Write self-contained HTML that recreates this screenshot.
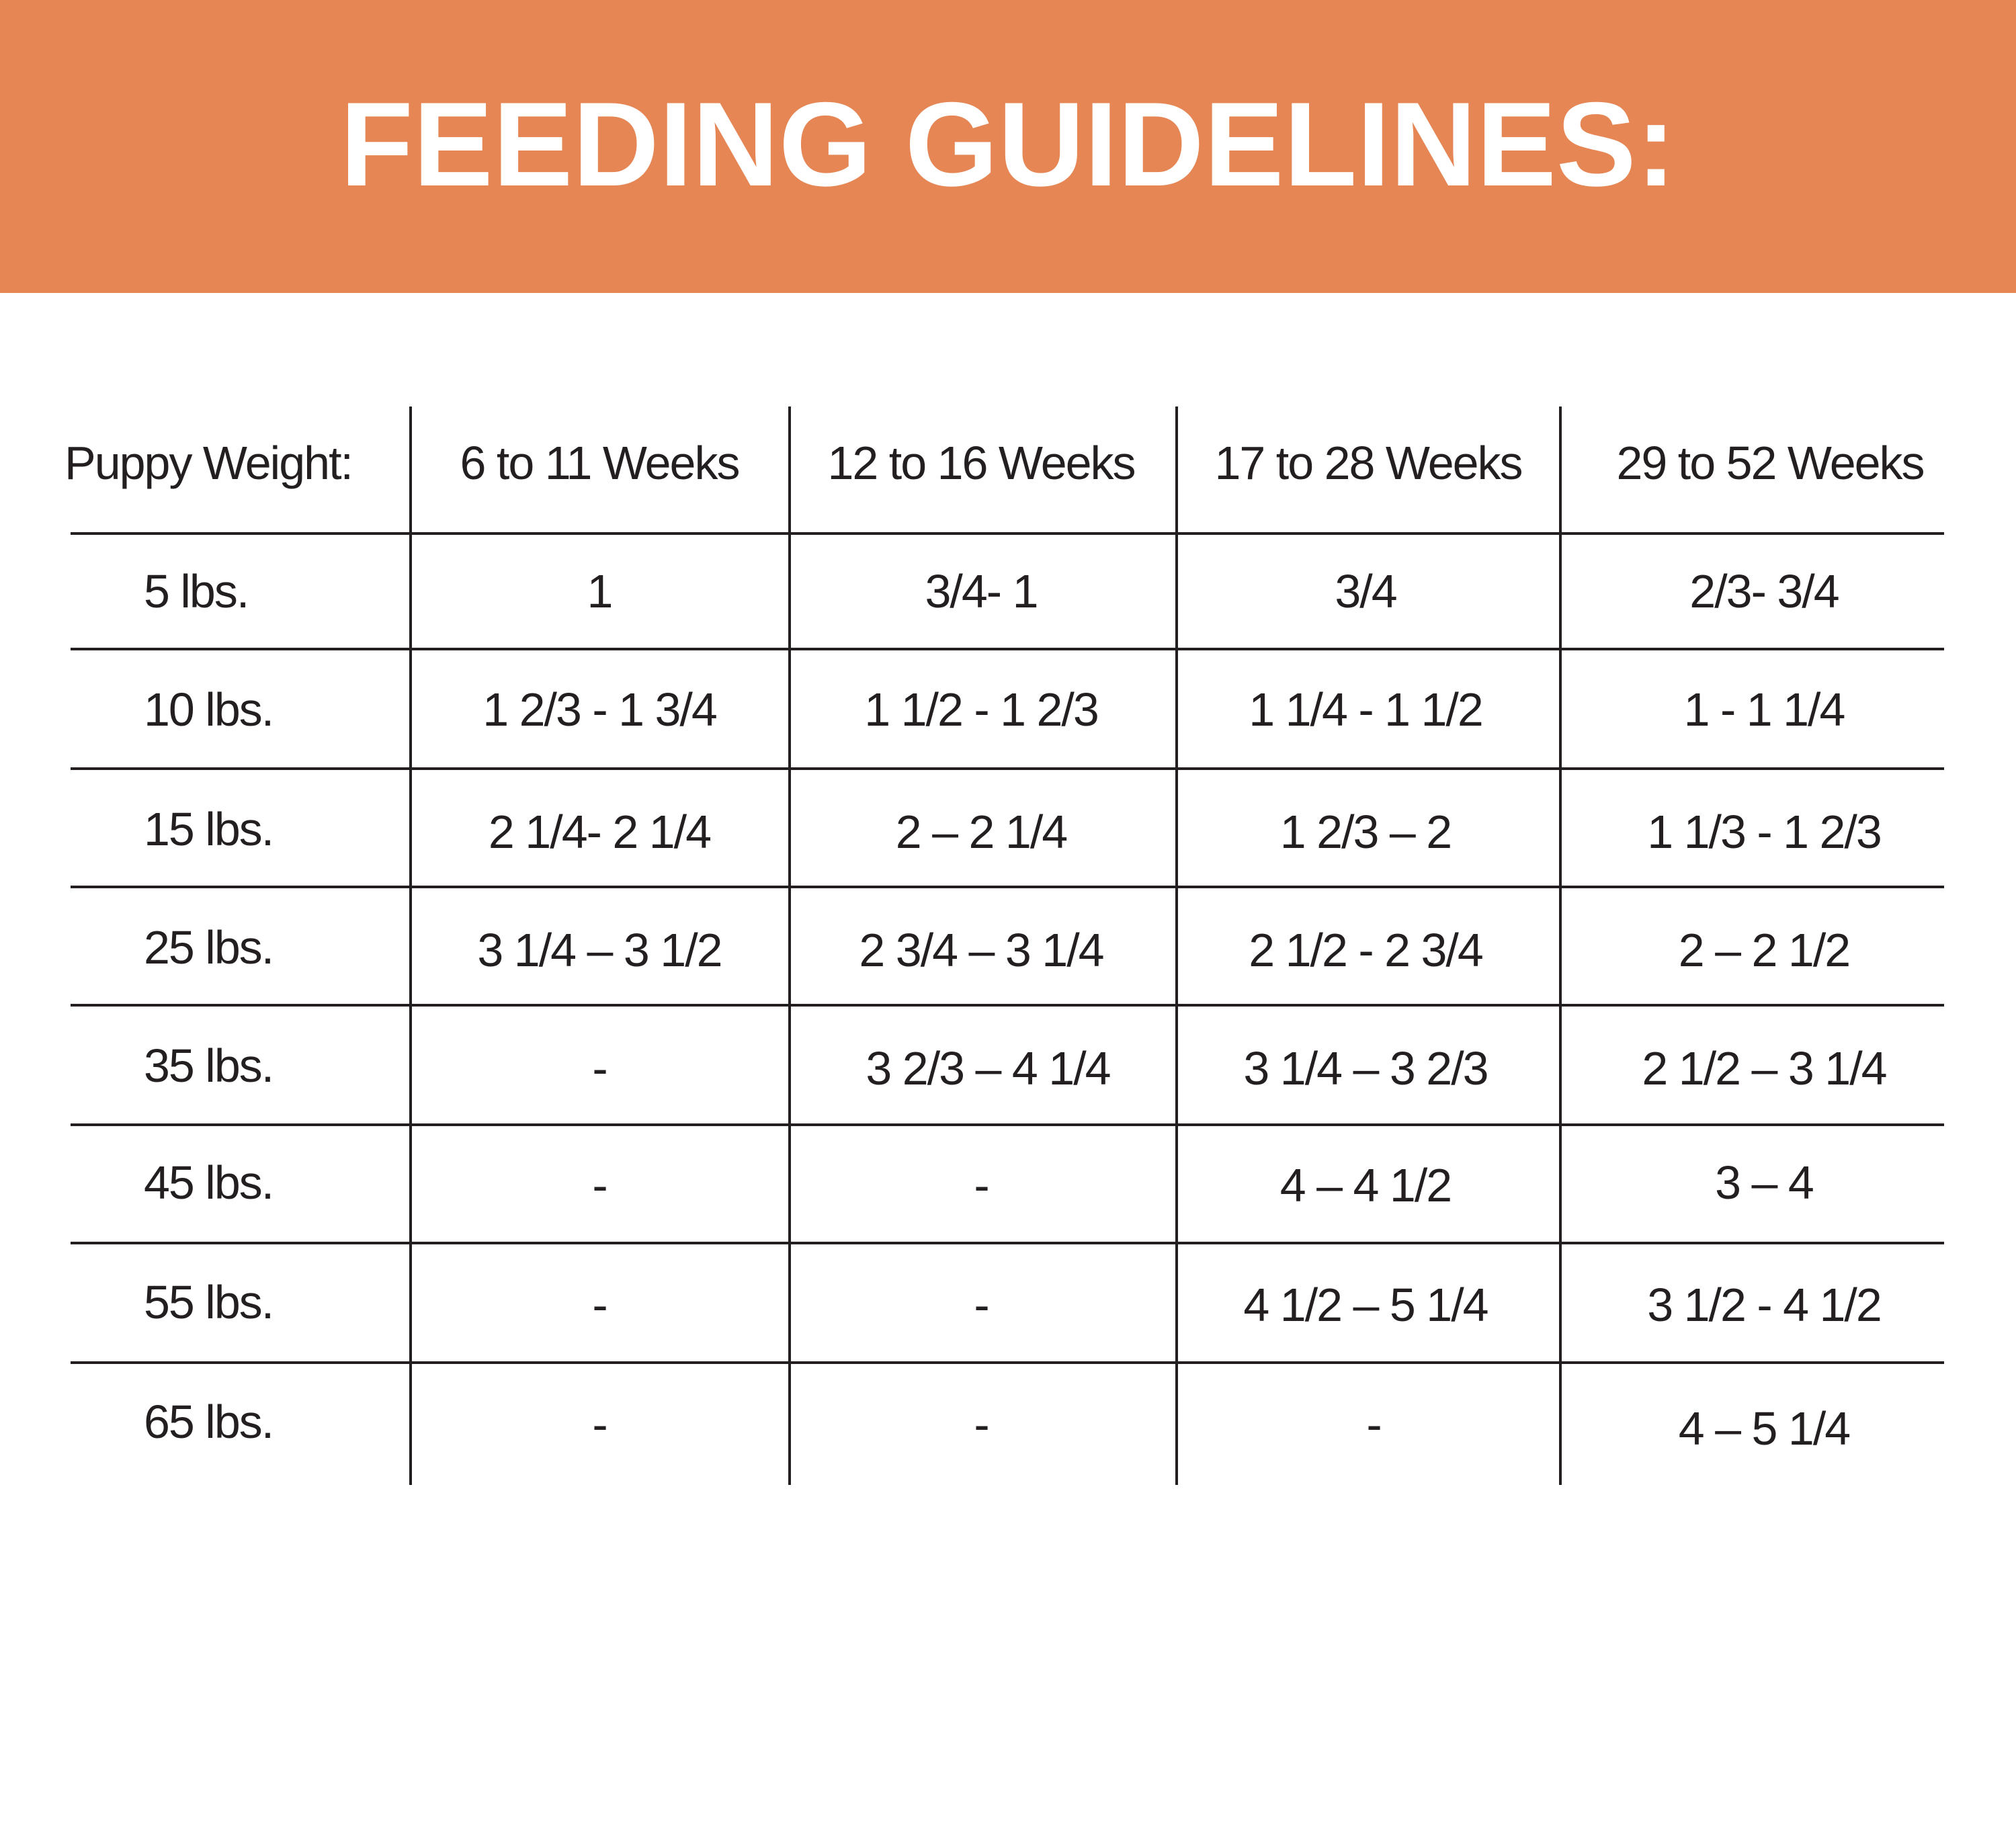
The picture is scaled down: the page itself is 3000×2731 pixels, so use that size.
<!DOCTYPE html>
<html><head><meta charset="utf-8"><style>
html,body{margin:0;padding:0;background:#fff;}
body{width:3000px;height:2731px;position:relative;overflow:hidden;font-family:"Liberation Sans",sans-serif;color:#231f20;}
.hdr{position:absolute;left:0;top:0;width:3000px;height:436px;background:#E58654;}
.title{position:absolute;left:0;width:3000px;top:105px;text-align:center;color:#fff;font-weight:bold;font-size:178px;line-height:220px;letter-spacing:0px;}
.h{position:absolute;height:4px;background:#231f20;left:105px;width:2788px;}
.v{position:absolute;width:4px;background:#231f20;top:605px;height:1605px;}
.t{position:absolute;font-size:70px;line-height:90px;letter-spacing:-2px;white-space:nowrap;transform:translate(-50%,-50%);}
.l{position:absolute;font-size:70px;line-height:90px;letter-spacing:-2px;white-space:nowrap;transform:translateY(-50%);}
</style></head><body>
<div class="hdr"></div>
<div class="title">FEEDING GUIDELINES:</div>
<div class="v" style="left:609px"></div>
<div class="v" style="left:1173px"></div>
<div class="v" style="left:1749px"></div>
<div class="v" style="left:2320px"></div>
<div class="h" style="top:792px"></div>
<div class="h" style="top:964px"></div>
<div class="h" style="top:1142px"></div>
<div class="h" style="top:1318px"></div>
<div class="h" style="top:1494px"></div>
<div class="h" style="top:1672px"></div>
<div class="h" style="top:1848px"></div>
<div class="h" style="top:2026px"></div>

<div class="l" style="left:96px;top:689px">Puppy Weight:</div>
<div class="t" style="left:892px;top:689px">6 to 11 Weeks</div>
<div class="t" style="left:1460px;top:689px">12 to 16 Weeks</div>
<div class="t" style="left:2036px;top:689px">17 to 28 Weeks</div>
<div class="t" style="left:2634px;top:689px">29 to 52 Weeks</div>

<div class="l" style="left:214px;top:880px">5 lbs.</div>
<div class="t" style="left:892px;top:880px">1</div>
<div class="t" style="left:1460px;top:880px">3/4- 1</div>
<div class="t" style="left:2032px;top:880px">3/4</div>
<div class="t" style="left:2625px;top:880px">2/3- 3/4</div>

<div class="l" style="left:214px;top:1056px">10 lbs.</div>
<div class="t" style="left:892px;top:1056px">1 2/3 - 1 3/4</div>
<div class="t" style="left:1460px;top:1056px">1 1/2 - 1 2/3</div>
<div class="t" style="left:2032px;top:1056px">1 1/4 - 1 1/2</div>
<div class="t" style="left:2625px;top:1056px">1 - 1 1/4</div>

<div class="l" style="left:214px;top:1234px">15 lbs.</div>
<div class="t" style="left:892px;top:1238px">2 1/4- 2 1/4</div>
<div class="t" style="left:1460px;top:1238px">2 – 2 1/4</div>
<div class="t" style="left:2032px;top:1238px">1 2/3 – 2</div>
<div class="t" style="left:2625px;top:1238px">1 1/3 - 1 2/3</div>

<div class="l" style="left:214px;top:1410px">25 lbs.</div>
<div class="t" style="left:892px;top:1414px">3 1/4 – 3 1/2</div>
<div class="t" style="left:1460px;top:1414px">2 3/4 – 3 1/4</div>
<div class="t" style="left:2032px;top:1414px">2 1/2 - 2 3/4</div>
<div class="t" style="left:2625px;top:1414px">2 – 2 1/2</div>

<div class="l" style="left:214px;top:1586px">35 lbs.</div>
<div class="t" style="left:892px;top:1590px">-</div>
<div class="t" style="left:1470px;top:1590px">3 2/3 – 4 1/4</div>
<div class="t" style="left:2032px;top:1590px">3 1/4 – 3 2/3</div>
<div class="t" style="left:2625px;top:1590px">2 1/2 – 3 1/4</div>

<div class="l" style="left:214px;top:1760px">45 lbs.</div>
<div class="t" style="left:892px;top:1764px">-</div>
<div class="t" style="left:1460px;top:1764px">-</div>
<div class="t" style="left:2032px;top:1764px">4 – 4 1/2</div>
<div class="t" style="left:2625px;top:1760px">3 – 4</div>

<div class="l" style="left:214px;top:1938px">55 lbs.</div>
<div class="t" style="left:892px;top:1942px">-</div>
<div class="t" style="left:1460px;top:1942px">-</div>
<div class="t" style="left:2032px;top:1942px">4 1/2 – 5 1/4</div>
<div class="t" style="left:2625px;top:1942px">3 1/2 - 4 1/2</div>

<div class="l" style="left:214px;top:2116px">65 lbs.</div>
<div class="t" style="left:892px;top:2120px">-</div>
<div class="t" style="left:1460px;top:2120px">-</div>
<div class="t" style="left:2044px;top:2120px">-</div>
<div class="t" style="left:2625px;top:2126px">4 – 5 1/4</div>
</body></html>
